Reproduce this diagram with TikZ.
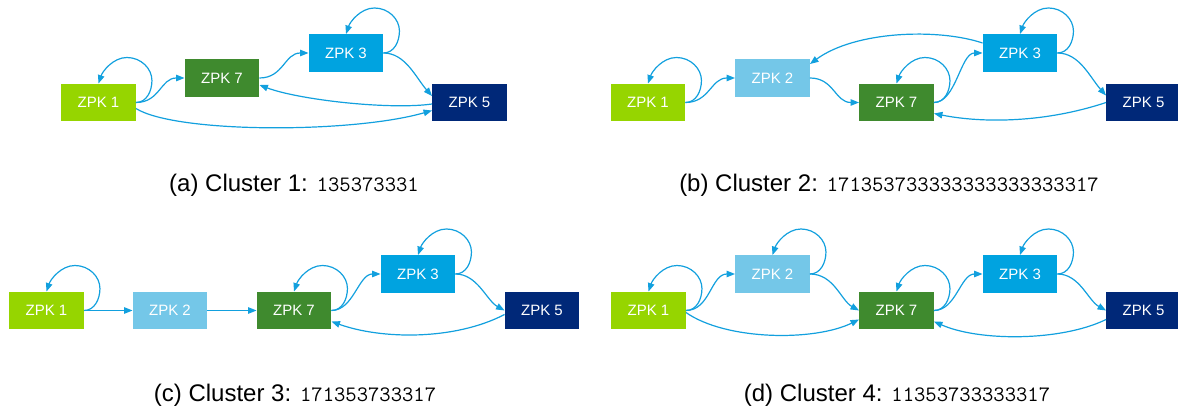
\documentclass[tikz,border=0pt]{standalone}
\usepackage{fontspec}
\setmainfont{Liberation Sans}
\usetikzlibrary{arrows.meta}

\definecolor{zpkone}{RGB}{150,213,0}
\definecolor{zpktwo}{RGB}{116,199,232}
\definecolor{zpkseven}{RGB}{63,138,46}
\definecolor{zpkthree}{RGB}{0,163,224}
\definecolor{zpkfive}{RGB}{0,40,120}
\definecolor{edgeblue}{RGB}{18,160,222}

\newcommand\seqfont{\fontsize{22}{26}\selectfont\ttfamily}
% self-loop: leaves the east side, arcs over the box, enters from the top
\newcommand\zloop[1]{\draw[edge] (#1.east) .. controls +(11,0) and +(0,10) .. ++(16,-22)
  .. controls +(0,-12) and +(14,0) .. ++(-25,-23)
  .. controls +(-14,0) and +(4,-12) .. (#1.north);}

\begin{document}
\begin{tikzpicture}[x=1pt,y=-1pt,
  zpk/.style={draw=none, minimum width=74.5pt, minimum height=37.5pt, inner sep=0pt,
    text=white, font=\fontsize{15}{18}\selectfont},
  edge/.style={draw=edgeblue, line width=1.2pt, -{Triangle[length=8.5pt,width=6.5pt]}},
  captext/.style={anchor=base, font=\fontsize{24}{28}\selectfont}]
\useasboundingbox (0,0) rectangle (1178,414);

% ---------- (a) ----------
\node[zpk, fill=zpkone]   (a1) at (98.5,102.5) {ZPK 1};
\node[zpk, fill=zpkseven] (a7) at (222,78)     {ZPK 7};
\node[zpk, fill=zpkthree] (a3) at (346,53)     {ZPK 3};
\node[zpk, fill=zpkfive]  (a5) at (469.5,102.5){ZPK 5};
\zloop{a1}
\draw[edge] (a1.east) .. controls +(24,0) and +(-24,0) .. (a7.west);
\draw[edge] (a7.east) .. controls +(24,0) and +(-24,0) .. (a3.west);
\zloop{a3}
\draw[edge] (a3.east) .. controls +(22,0) and +(-16,-18) .. ([yshift=6.5pt]a5.west);
\draw[edge] ([yshift=-1.5pt]a5.west) .. controls +(-42,6) and +(40,15) .. ([yshift=-7pt]a7.east);
\draw[edge] ([yshift=-6pt]a1.east) .. controls +(40,25) and +(-80,23) .. ([yshift=-8pt]a5.west);
\node[captext] (capa) at (294,192) {(a) Cluster 1: {\seqfont 135373331}};

% ---------- (b) ----------
\node[zpk, fill=zpkone]   (b1) at (648,102.5)   {ZPK 1};
\node[zpk, fill=zpktwo]   (b2) at (772.5,78)    {ZPK 2};
\node[zpk, fill=zpkseven] (b7) at (896.5,102.5) {ZPK 7};
\node[zpk, fill=zpkthree] (b3) at (1020,53)     {ZPK 3};
\node[zpk, fill=zpkfive]  (b5) at (1143.5,102.5){ZPK 5};
\zloop{b1}
\draw[edge] (b1.east) .. controls +(24,0) and +(-24,0) .. (b2.west);
\draw[edge] (b2.east) .. controls +(24,0) and +(-24,0) .. (b7.west);
\zloop{b7}
\draw[edge] (b7.east) .. controls +(22,0) and +(-22,0) .. (b3.west);
\zloop{b3}
\draw[edge] (b3.east) .. controls +(22,0) and +(-16,-18) .. ([yshift=7pt]b5.west);
\draw[edge] (b5.west) .. controls +(-60,20) and +(50,10) .. ([yshift=-11pt]b7.east);
\draw[edge] ([yshift=10pt]b3.west) .. controls +(-45,-15) and +(45,-33) .. ([yshift=14pt]b2.east);
\node[captext] (capb) at (889,192) {(b) Cluster 2: {\seqfont 171353733333333333333317}};

% ---------- (c) ----------
\node[zpk, fill=zpkone]   (c1) at (46.5,310.5) {ZPK 1};
\node[zpk, fill=zpktwo]   (c2) at (170,310.5)  {ZPK 2};
\node[zpk, fill=zpkseven] (c7) at (294,310.5)  {ZPK 7};
\node[zpk, fill=zpkthree] (c3) at (418,274)    {ZPK 3};
\node[zpk, fill=zpkfive]  (c5) at (542,310.5)  {ZPK 5};
\zloop{c1}
\draw[edge] (c1.east) -- (c2.west);
\draw[edge] (c2.east) -- (c7.west);
\zloop{c7}
\draw[edge] (c7.east) .. controls +(22,0) and +(-22,0) .. (c3.west);
\zloop{c3}
\draw[edge] (c3.east) .. controls +(22,0) and +(-18,-10) .. (c5.west);
\draw[edge] ([yshift=-4pt]c5.west) .. controls +(-50,26) and +(50,18) .. ([yshift=-11pt]c7.east);
\node[captext] (capc) at (295,401) {(c) Cluster 3: {\seqfont 171353733317}};

% ---------- (d) ----------
\node[zpk, fill=zpkone]   (d1) at (648.5,310.5) {ZPK 1};
\node[zpk, fill=zpktwo]   (d2) at (772.5,274)   {ZPK 2};
\node[zpk, fill=zpkseven] (d7) at (896.5,310.5) {ZPK 7};
\node[zpk, fill=zpkthree] (d3) at (1020,274)    {ZPK 3};
\node[zpk, fill=zpkfive]  (d5) at (1143.5,310.5){ZPK 5};
\zloop{d1}
\draw[edge] (d1.east) .. controls +(24,0) and +(-24,0) .. (d2.west);
\draw[edge] ([yshift=-2pt]d1.east) .. controls +(40,28) and +(-45,22) .. ([yshift=-9pt]d7.west);
\zloop{d2}
\draw[edge] (d2.east) .. controls +(24,0) and +(-18,-10) .. (d7.west);
\zloop{d7}
\draw[edge] (d7.east) .. controls +(22,0) and +(-22,0) .. (d3.west);
\zloop{d3}
\draw[edge] (d3.east) .. controls +(22,0) and +(-18,-10) .. (d5.west);
\draw[edge] ([yshift=-9pt]d5.west) .. controls +(-45,22) and +(45,20) .. ([yshift=-11pt]d7.east);
\node[captext] (capd) at (897,401) {(d) Cluster 4: {\seqfont 11353733333317}};
\end{tikzpicture}
\end{document}
